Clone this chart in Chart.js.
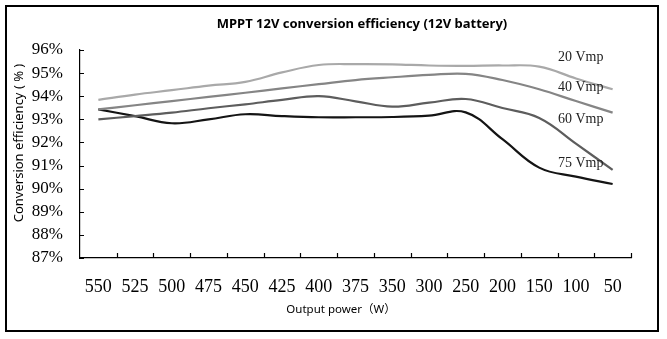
<!DOCTYPE html>
<html>
<head>
<meta charset="utf-8">
<script src="https://cdn.jsdelivr.net/npm/chart.js@4/dist/chart.umd.min.js"></script>
<style>
	html, body { margin: 0; padding: 0; background: #fff; }
	#wrap { width: 667px; height: 339px; position: relative; }
</style>
</head>
<body>
<div id="wrap"><canvas id="chart-mppt"></canvas></div>
<script>
var categories = ["550", "525", "500", "475", "450", "425", "400", "375", "350", "300", "250", "200", "150", "100", "50"];
var vmp20 = [93.84, 94.07, 94.26, 94.46, 94.62, 95.03, 95.35, 95.39, 95.38, 95.33, 95.31, 95.33, 95.28, 94.77, 94.30];
var vmp40 = [93.43, 93.61, 93.79, 93.97, 94.15, 94.34, 94.52, 94.70, 94.82, 94.92, 94.97, 94.70, 94.30, 93.79, 93.29];
var vmp60 = [93.00, 93.14, 93.29, 93.48, 93.65, 93.84, 94.00, 93.78, 93.55, 93.72, 93.88, 93.49, 93.06, 91.95, 90.81];
var vmp75 = [93.43, 93.14, 92.83, 93.00, 93.22, 93.14, 93.09, 93.09, 93.10, 93.16, 93.30, 92.14, 90.91, 90.52, 90.20];
var seriesNames = ["20 Vmp", "40 Vmp", "60 Vmp", "75 Vmp"];
var yTicks = [87, 88, 89, 90, 91, 92, 93, 94, 95, 96];

var serif = "'Liberation Serif', 'DejaVu Serif', serif";
var sans = "'Noto Sans', 'Noto Sans CJK SC', sans-serif";

function MakeDataset(label, values, color)
{
	return {
		label: label,
		data: values,
		borderColor: color,
		borderWidth: 2.2,
		pointRadius: 0,
		tension: 0.4,
		fill: false
	};
}

// frame, inner ticks, title, axis titles and series names
var decorPlugin = {
	id: "decor",
	afterDraw: function(chart)
	{
		let ctx = chart.ctx;
		let xs = chart.scales.x;
		let ys = chart.scales.y;
		ctx.save();

		ctx.strokeStyle = "#000";
		ctx.lineWidth = 2;
		ctx.strokeRect(6, 6, 652, 325);

		ctx.lineWidth = 1.2;
		ctx.beginPath();
		yTicks.forEach(function(v)
		{
			let py = Math.round(ys.getPixelForValue(v)) + 0.5;
			ctx.moveTo(xs.left, py);
			ctx.lineTo(xs.left + 4, py);
		});
		for (let i = 0; i < categories.length; i++)
		{
			let px = i < categories.length - 1 ? (xs.getPixelForValue(i) + xs.getPixelForValue(i + 1)) / 2 : xs.right;
			px = Math.round(px) + 0.5;
			ctx.moveTo(px, ys.bottom);
			ctx.lineTo(px, ys.bottom - 5);
		}
		ctx.stroke();

		ctx.fillStyle = "#000";
		ctx.textAlign = "center";
		ctx.textBaseline = "middle";
		ctx.font = "bold 13px " + sans;
		ctx.fillText("MPPT 12V conversion efficiency (12V battery)", 362, 24);

		ctx.font = "11.5px " + sans;
		ctx.fillText("Output power\uFF08W\uFF09", 341, 310);

		ctx.save();
		ctx.translate(19, 143);
		ctx.rotate(-Math.PI / 2);
		ctx.font = "13px " + sans;
		ctx.fillText("Conversion efficiency ( % )", 0, 0);
		ctx.restore();

		let labelY = [57, 87, 119, 163];
		ctx.textAlign = "left";
		ctx.font = "14px " + serif;
		ctx.fillStyle = "#222";
		seriesNames.forEach(function(name, i)
		{
			ctx.fillText(name, 558, labelY[i]);
		});

		ctx.restore();
	}
};

new Chart("chart-mppt", {
	type: "line",
	data: {
		labels: categories,
		datasets: [
			MakeDataset(seriesNames[0], vmp20, "#a9a9a9"),
			MakeDataset(seriesNames[1], vmp40, "#858585"),
			MakeDataset(seriesNames[2], vmp60, "#5d5d5d"),
			MakeDataset(seriesNames[3], vmp75, "#141414")
		]
	},
	options: {
		responsive: true,
		maintainAspectRatio: false,
		animation: false,
		layout: { padding: { left: 0, right: 36, top: 50, bottom: 0 } },
		plugins: {
			legend: { display: false },
			tooltip: { enabled: false }
		},
		scales: {
			x: {
				offset: true,
				grid: { display: false, drawTicks: false },
				border: { display: true, color: "#000", width: 1.2 },
				ticks: {
					color: "#000",
					padding: 18,
					maxRotation: 0,
					autoSkip: false,
					font: { family: serif, size: 18 }
				},
				afterFit: function(scale) { scale.height = 81; }
			},
			y: {
				min: 87,
				max: 96,
				grid: { display: false, drawTicks: false },
				border: { display: true, color: "#000", width: 1.2 },
				ticks: {
					stepSize: 1,
					autoSkip: false,
					color: "#000",
					padding: 17,
					font: { family: serif, size: 17 },
					callback: function(value) { return value + "%"; }
				},
				afterFit: function(scale) { scale.width = 80; }
			}
		}
	},
	plugins: [decorPlugin]
});
</script>
</body>
</html>
